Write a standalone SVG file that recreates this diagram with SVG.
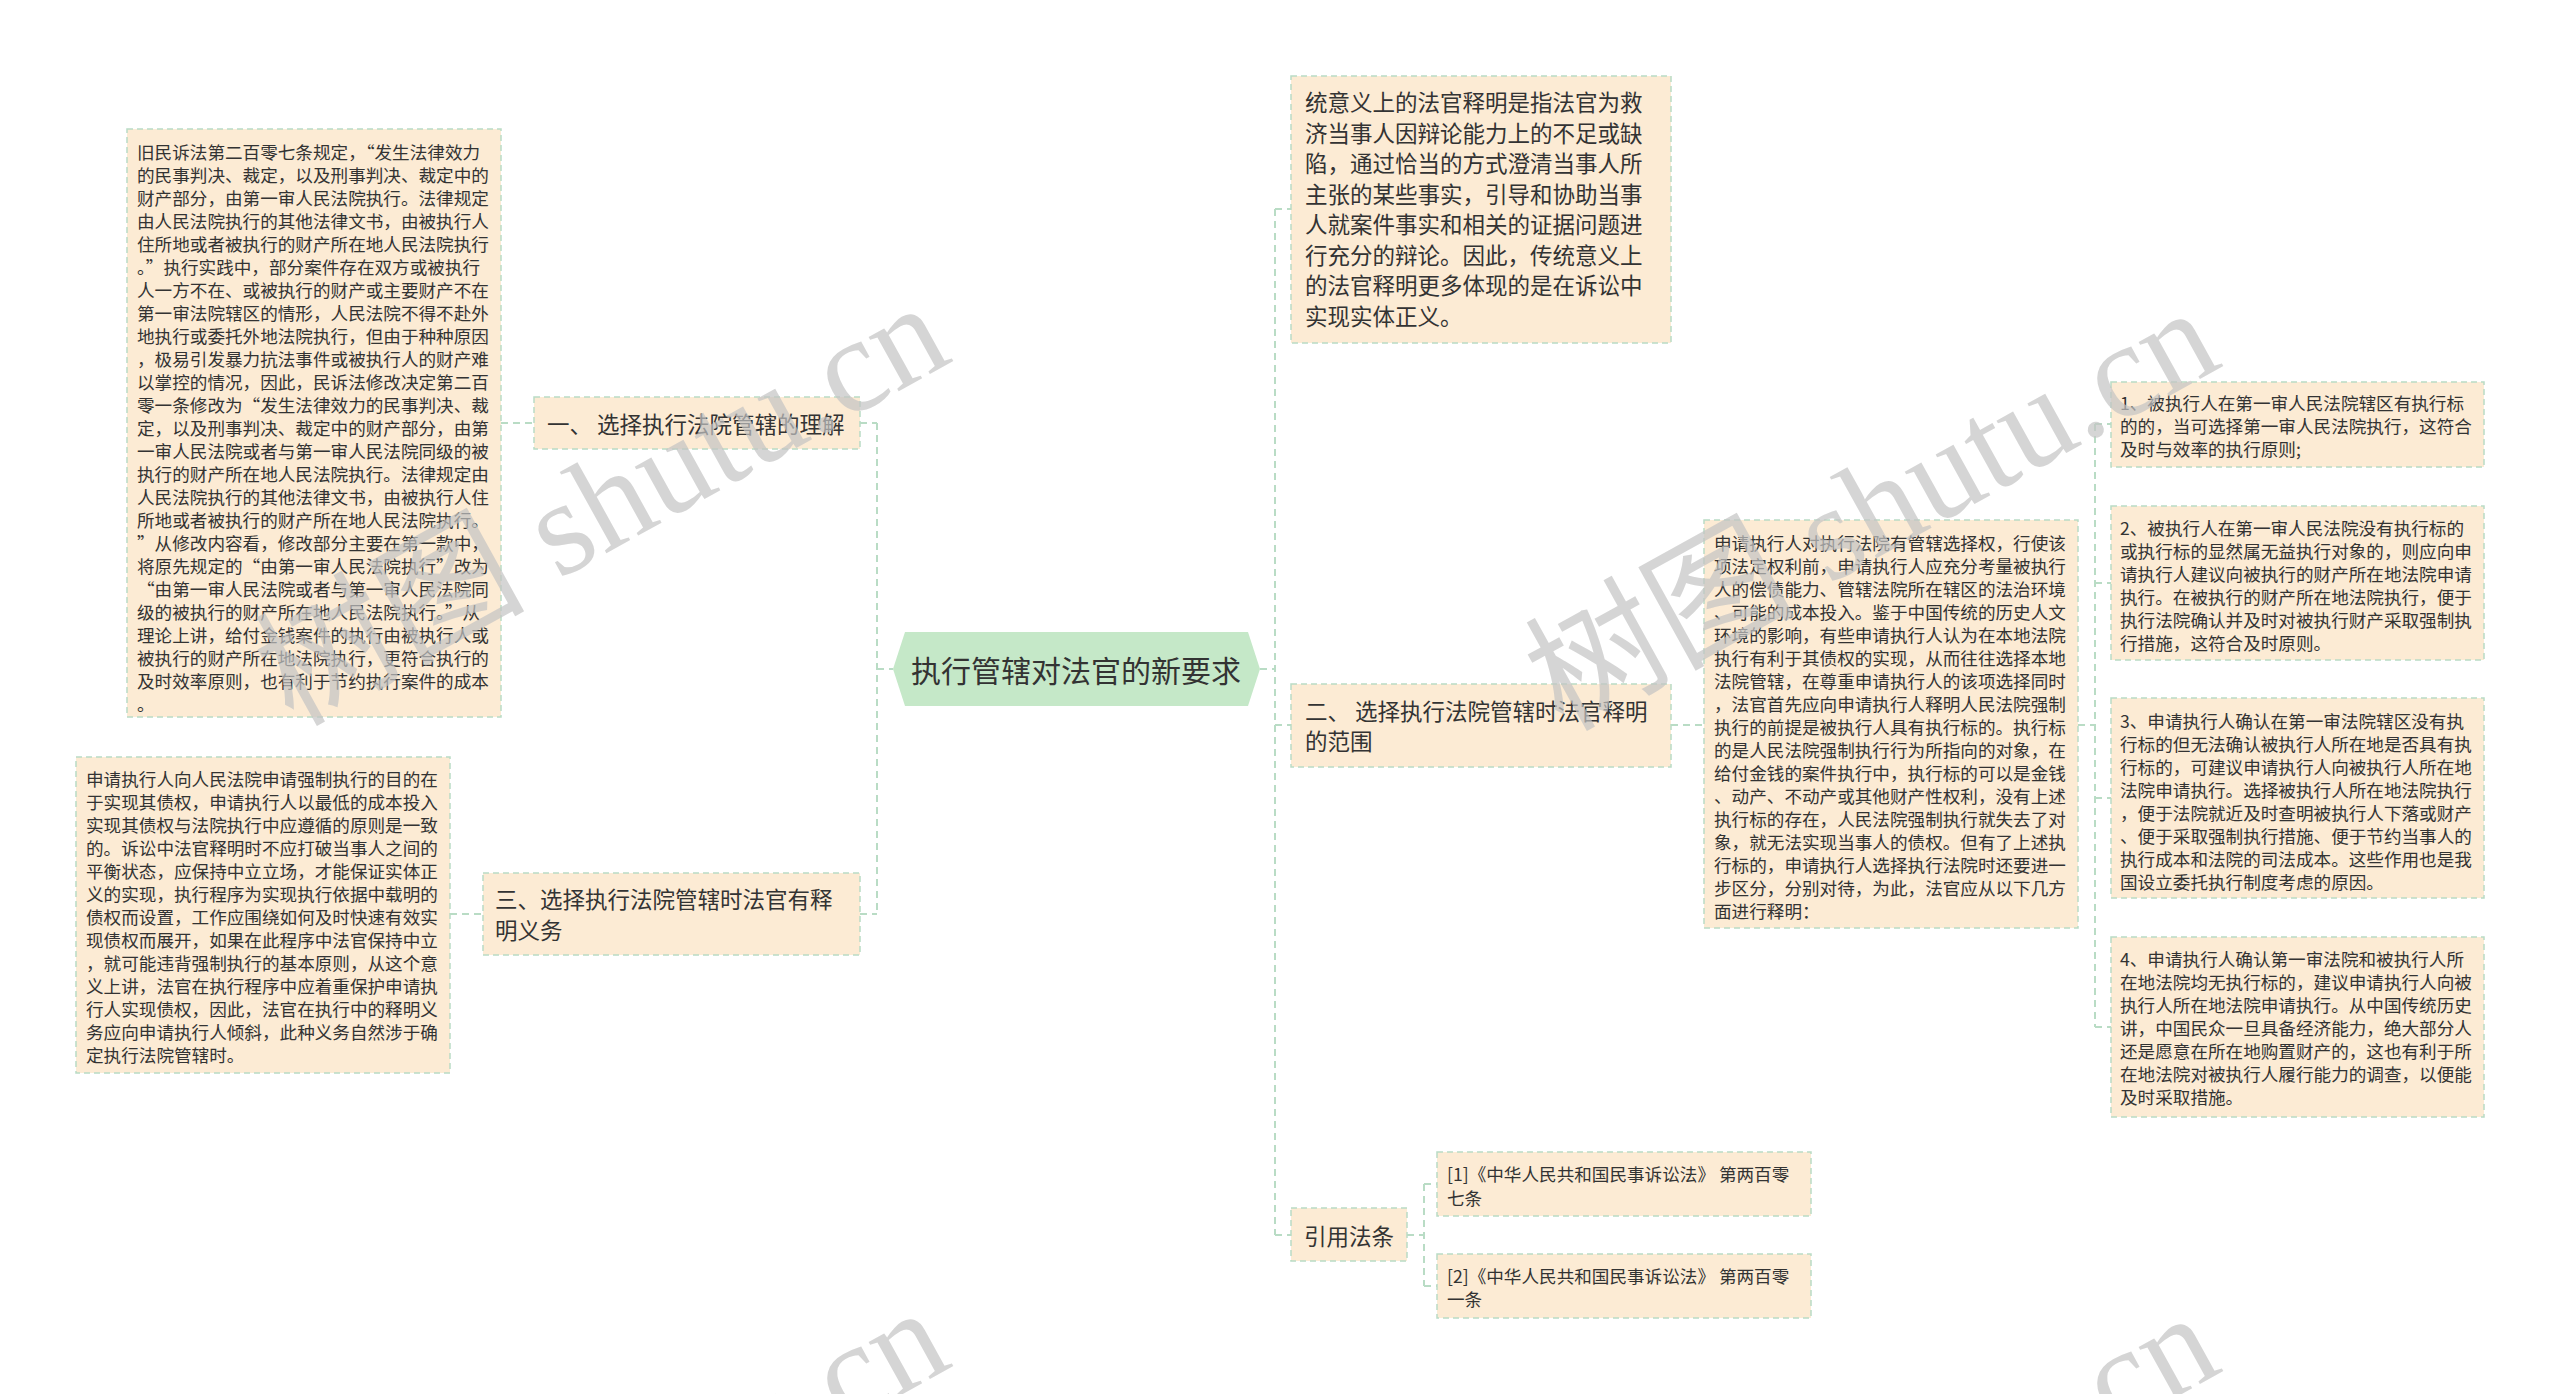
<svg xmlns="http://www.w3.org/2000/svg" width="2560" height="1394" viewBox="0 0 2560 1394">
<style>
.box{fill:#fcebd4;stroke:#b9dcc5;stroke-width:1.5;stroke-dasharray:6 4}
.conn{fill:none;stroke:#b9dcc5;stroke-width:2;stroke-dasharray:7 5}
.t{font-family:"Noto Sans CJK SC","Noto Sans",sans-serif;fill:#333;dominant-baseline:central}
.b{font-size:17.6px}
.h{font-size:22.5px}
.wm{font-family:"Liberation Serif","Noto Sans CJK SC",serif;font-size:135px;fill:#c4c4c4;opacity:0.7}
</style>
<rect width="2560" height="1394" fill="#ffffff"/>
<g id="connectors">
<path class="conn" d="M877,423 V914 M860,423 H877 M860,914 H877 M877,669 H893 M501,423 H534 M450,914 H483"/>
<path class="conn" d="M1275,209 V1235 M1260,669 H1275 M1275,209 H1291 M1275,725 H1291 M1275,1235 H1291 M1671,725 H1704 M2078,725 H2095 M2095,424 V1027 M2095,424 H2111 M2095,583 H2111 M2095,798 H2111 M2095,1027 H2111 M1407,1235 H1424 M1424,1184 V1286 M1424,1184 H1437 M1424,1286 H1437"/>
</g>
<g id="center">
<polygon points="893,669 905,632 1248,632 1260,669 1248,706 905,706" fill="#c5e8c8"/>
<text class="t" x="1076" y="669" font-size="30" text-anchor="middle">执行管辖对法官的新要求</text>
</g>
<g id="n1">
<rect class="box" x="534" y="397" width="326" height="52"/>
<text class="t h" x="547" y="423">一、 选择执行法院管辖的理解</text>
</g>
<g id="n1-text">
<rect class="box" x="127" y="129" width="374" height="588"/>
<text class="t b">
<tspan x="137" y="151">旧民诉法第二百零七条规定，“发生法律效力</tspan>
<tspan x="137" y="174">的民事判决、裁定，以及刑事判决、裁定中的</tspan>
<tspan x="137" y="197">财产部分，由第一审人民法院执行。法律规定</tspan>
<tspan x="137" y="220">由人民法院执行的其他法律文书，由被执行人</tspan>
<tspan x="137" y="243">住所地或者被执行的财产所在地人民法院执行</tspan>
<tspan x="137" y="266">。”执行实践中，部分案件存在双方或被执行</tspan>
<tspan x="137" y="289">人一方不在、或被执行的财产或主要财产不在</tspan>
<tspan x="137" y="312">第一审法院辖区的情形，人民法院不得不赴外</tspan>
<tspan x="137" y="335">地执行或委托外地法院执行，但由于种种原因</tspan>
<tspan x="137" y="358">，极易引发暴力抗法事件或被执行人的财产难</tspan>
<tspan x="137" y="381">以掌控的情况，因此，民诉法修改决定第二百</tspan>
<tspan x="137" y="404">零一条修改为“发生法律效力的民事判决、裁</tspan>
<tspan x="137" y="427">定，以及刑事判决、裁定中的财产部分，由第</tspan>
<tspan x="137" y="450">一审人民法院或者与第一审人民法院同级的被</tspan>
<tspan x="137" y="473">执行的财产所在地人民法院执行。法律规定由</tspan>
<tspan x="137" y="496">人民法院执行的其他法律文书，由被执行人住</tspan>
<tspan x="137" y="519">所地或者被执行的财产所在地人民法院执行。</tspan>
<tspan x="137" y="542">”从修改内容看，修改部分主要在第一款中，</tspan>
<tspan x="137" y="565">将原先规定的“由第一审人民法院执行”改为</tspan>
<tspan x="137" y="588">“由第一审人民法院或者与第一审人民法院同</tspan>
<tspan x="137" y="611">级的被执行的财产所在地人民法院执行。”从</tspan>
<tspan x="137" y="634">理论上讲，给付金钱案件的执行由被执行人或</tspan>
<tspan x="137" y="657">被执行的财产所在地法院执行，更符合执行的</tspan>
<tspan x="137" y="680">及时效率原则，也有利于节约执行案件的成本</tspan>
<tspan x="137" y="703">。</tspan>
</text>
</g>
<g id="n3">
<rect class="box" x="483" y="873" width="377" height="82"/>
<text class="t h"><tspan x="495" y="898">三、选择执行法院管辖时法官有释</tspan><tspan x="495" y="929">明义务</tspan></text>
</g>
<g id="n3-text">
<rect class="box" x="76" y="757" width="374" height="316"/>
<text class="t b">
<tspan x="86" y="778">申请执行人向人民法院申请强制执行的目的在</tspan>
<tspan x="86" y="801">于实现其债权，申请执行人以最低的成本投入</tspan>
<tspan x="86" y="824">实现其债权与法院执行中应遵循的原则是一致</tspan>
<tspan x="86" y="847">的。诉讼中法官释明时不应打破当事人之间的</tspan>
<tspan x="86" y="870">平衡状态，应保持中立立场，才能保证实体正</tspan>
<tspan x="86" y="893">义的实现，执行程序为实现执行依据中载明的</tspan>
<tspan x="86" y="916">债权而设置，工作应围绕如何及时快速有效实</tspan>
<tspan x="86" y="939">现债权而展开，如果在此程序中法官保持中立</tspan>
<tspan x="86" y="962">，就可能违背强制执行的基本原则，从这个意</tspan>
<tspan x="86" y="985">义上讲，法官在执行程序中应着重保护申请执</tspan>
<tspan x="86" y="1008">行人实现债权，因此，法官在执行中的释明义</tspan>
<tspan x="86" y="1031">务应向申请执行人倾斜，此种义务自然涉于确</tspan>
<tspan x="86" y="1054">定执行法院管辖时。</tspan>
</text>
</g>
<g id="top-text">
<rect class="box" x="1291" y="76" width="380" height="267"/>
<text class="t h">
<tspan x="1305" y="101">统意义上的法官释明是指法官为救</tspan>
<tspan x="1305" y="131.5">济当事人因辩论能力上的不足或缺</tspan>
<tspan x="1305" y="162">陷，通过恰当的方式澄清当事人所</tspan>
<tspan x="1305" y="192.5">主张的某些事实，引导和协助当事</tspan>
<tspan x="1305" y="223">人就案件事实和相关的证据问题进</tspan>
<tspan x="1305" y="253.5">行充分的辩论。因此，传统意义上</tspan>
<tspan x="1305" y="284">的法官释明更多体现的是在诉讼中</tspan>
<tspan x="1305" y="314.5">实现实体正义。</tspan>
</text>
</g>
<g id="n2">
<rect class="box" x="1291" y="684" width="380" height="83"/>
<text class="t h"><tspan x="1305" y="710">二、 选择执行法院管辖时法官释明</tspan><tspan x="1305" y="740">的范围</tspan></text>
</g>
<g id="n2-text">
<rect class="box" x="1704" y="520" width="374" height="408"/>
<text class="t b">
<tspan x="1714" y="542">申请执行人对执行法院有管辖选择权，行使该</tspan>
<tspan x="1714" y="565">项法定权利前，申请执行人应充分考量被执行</tspan>
<tspan x="1714" y="588">人的偿债能力、管辖法院所在辖区的法治环境</tspan>
<tspan x="1714" y="611">、可能的成本投入。鉴于中国传统的历史人文</tspan>
<tspan x="1714" y="634">环境的影响，有些申请执行人认为在本地法院</tspan>
<tspan x="1714" y="657">执行有利于其债权的实现，从而往往选择本地</tspan>
<tspan x="1714" y="680">法院管辖，在尊重申请执行人的该项选择同时</tspan>
<tspan x="1714" y="703">，法官首先应向申请执行人释明人民法院强制</tspan>
<tspan x="1714" y="726">执行的前提是被执行人具有执行标的。执行标</tspan>
<tspan x="1714" y="749">的是人民法院强制执行行为所指向的对象，在</tspan>
<tspan x="1714" y="772">给付金钱的案件执行中，执行标的可以是金钱</tspan>
<tspan x="1714" y="795">、动产、不动产或其他财产性权利，没有上述</tspan>
<tspan x="1714" y="818">执行标的存在，人民法院强制执行就失去了对</tspan>
<tspan x="1714" y="841">象，就无法实现当事人的债权。但有了上述执</tspan>
<tspan x="1714" y="864">行标的，申请执行人选择执行法院时还要进一</tspan>
<tspan x="1714" y="887">步区分，分别对待，为此，法官应从以下几方</tspan>
<tspan x="1714" y="910">面进行释明：</tspan>
</text>
</g>
<g id="item1">
<rect class="box" x="2111" y="382" width="373" height="85"/>
<text class="t b">
<tspan x="2120" y="402">1、被执行人在第一审人民法院辖区有执行标</tspan>
<tspan x="2120" y="425">的的，当可选择第一审人民法院执行，这符合</tspan>
<tspan x="2120" y="448">及时与效率的执行原则;</tspan>
</text>
</g>
<g id="item2">
<rect class="box" x="2111" y="506" width="373" height="154"/>
<text class="t b">
<tspan x="2120" y="527">2、被执行人在第一审人民法院没有执行标的</tspan>
<tspan x="2120" y="550">或执行标的显然属无益执行对象的，则应向申</tspan>
<tspan x="2120" y="573">请执行人建议向被执行的财产所在地法院申请</tspan>
<tspan x="2120" y="596">执行。在被执行的财产所在地法院执行，便于</tspan>
<tspan x="2120" y="619">执行法院确认并及时对被执行财产采取强制执</tspan>
<tspan x="2120" y="642">行措施，这符合及时原则。</tspan>
</text>
</g>
<g id="item3">
<rect class="box" x="2111" y="698" width="373" height="200"/>
<text class="t b">
<tspan x="2120" y="720">3、申请执行人确认在第一审法院辖区没有执</tspan>
<tspan x="2120" y="743">行标的但无法确认被执行人所在地是否具有执</tspan>
<tspan x="2120" y="766">行标的，可建议申请执行人向被执行人所在地</tspan>
<tspan x="2120" y="789">法院申请执行。选择被执行人所在地法院执行</tspan>
<tspan x="2120" y="812">，便于法院就近及时查明被执行人下落或财产</tspan>
<tspan x="2120" y="835">、便于采取强制执行措施、便于节约当事人的</tspan>
<tspan x="2120" y="858">执行成本和法院的司法成本。这些作用也是我</tspan>
<tspan x="2120" y="881">国设立委托执行制度考虑的原因。</tspan>
</text>
</g>
<g id="item4">
<rect class="box" x="2111" y="937" width="373" height="180"/>
<text class="t b">
<tspan x="2120" y="958">4、申请执行人确认第一审法院和被执行人所</tspan>
<tspan x="2120" y="981">在地法院均无执行标的，建议申请执行人向被</tspan>
<tspan x="2120" y="1004">执行人所在地法院申请执行。从中国传统历史</tspan>
<tspan x="2120" y="1027">讲，中国民众一旦具备经济能力，绝大部分人</tspan>
<tspan x="2120" y="1050">还是愿意在所在地购置财产的，这也有利于所</tspan>
<tspan x="2120" y="1073">在地法院对被执行人履行能力的调查，以便能</tspan>
<tspan x="2120" y="1096">及时采取措施。</tspan>
</text>
</g>
<g id="refs">
<rect class="box" x="1291" y="1208" width="116" height="53"/>
<text class="t h" x="1349" y="1235" text-anchor="middle">引用法条</text>
</g>
<g id="ref1">
<rect class="box" x="1437" y="1152" width="374" height="64"/>
<text class="t b"><tspan x="1447" y="1173">[1]《中华人民共和国民事诉讼法》 第两百零</tspan><tspan x="1447" y="1197">七条</tspan></text>
</g>
<g id="ref2">
<rect class="box" x="1437" y="1254" width="374" height="64"/>
<text class="t b"><tspan x="1447" y="1275">[2]《中华人民共和国民事诉讼法》 第两百零</tspan><tspan x="1447" y="1298">一条</tspan></text>
</g>
<g id="watermark">
<text class="wm" x="955" y="360" text-anchor="end" transform="rotate(-29 955 360)">树图 shutu.cn</text>
<text class="wm" x="2225" y="365" text-anchor="end" transform="rotate(-29 2225 365)">树图 shutu.cn</text>
<text class="wm" x="955" y="1365" text-anchor="end" transform="rotate(-29 955 1365)">树图 shutu.cn</text>
<text class="wm" x="2225" y="1370" text-anchor="end" transform="rotate(-29 2225 1370)">树图 shutu.cn</text>
</g>
</svg>
